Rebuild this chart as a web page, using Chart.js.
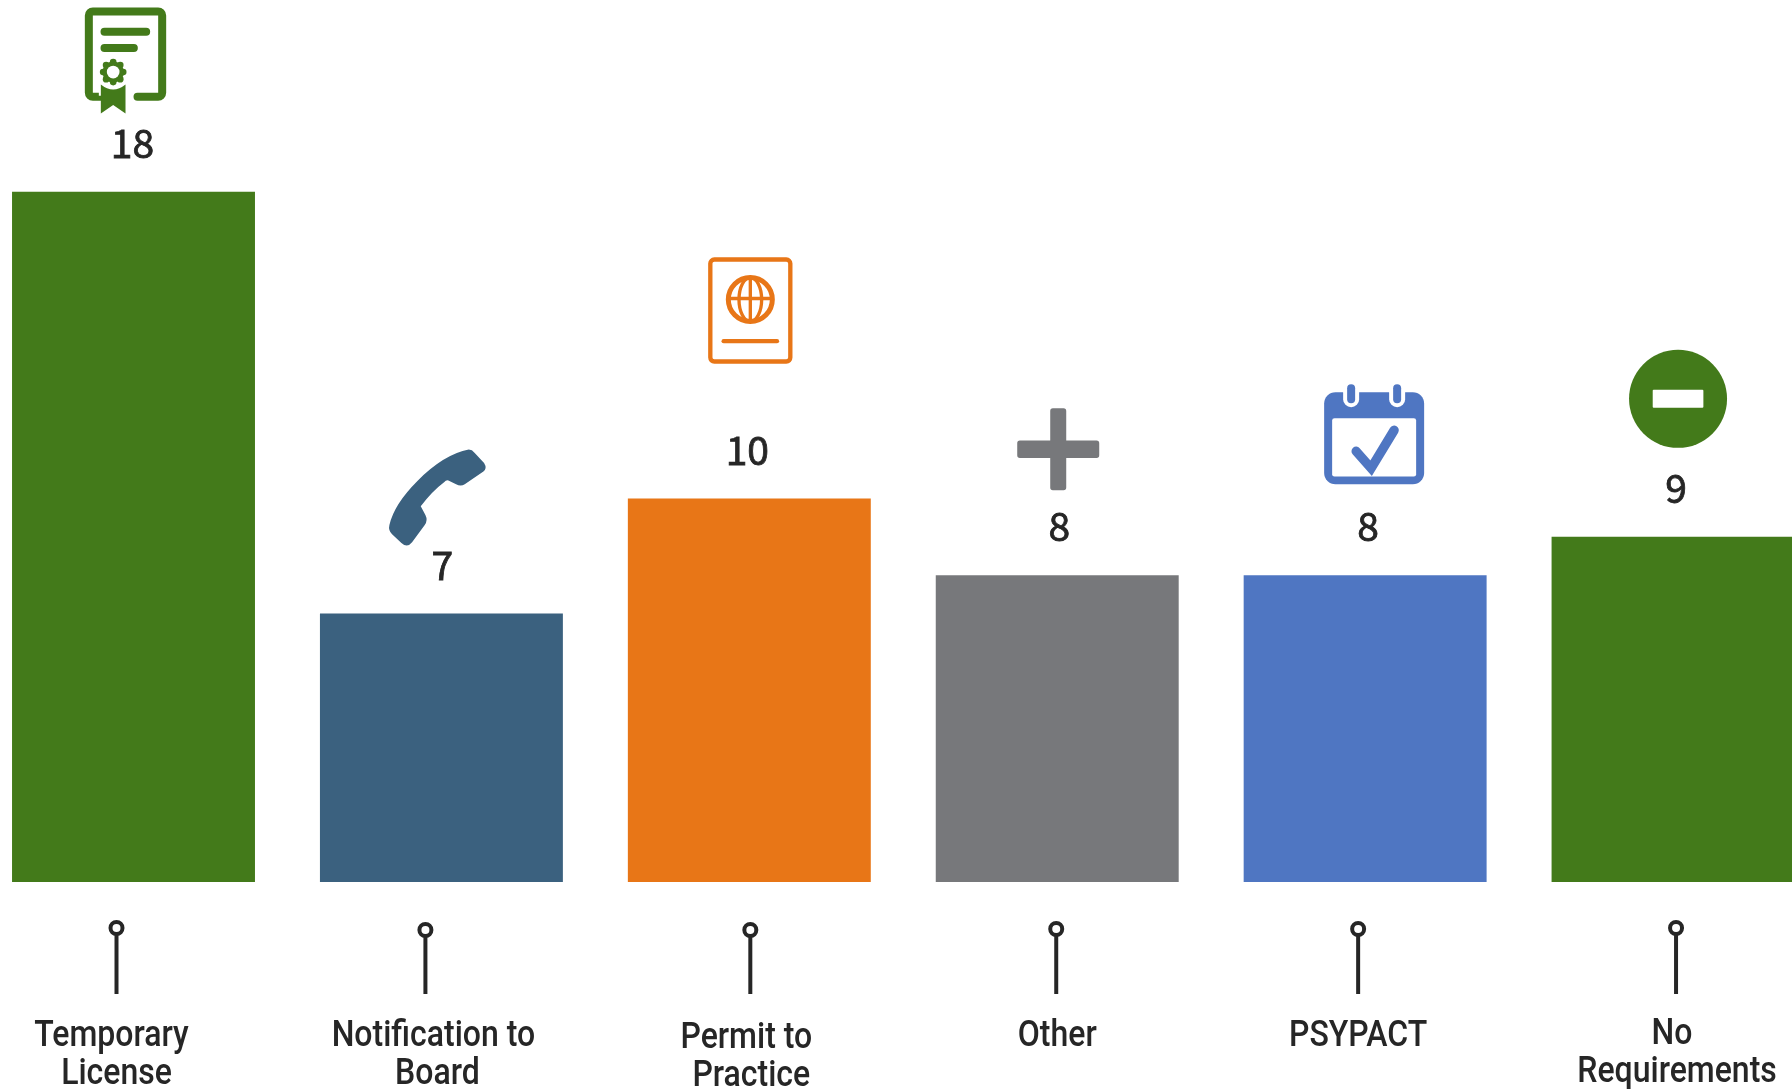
<!DOCTYPE html>
<html><head><meta charset="utf-8">
<style>html,body{margin:0;padding:0;background:#fff;overflow:hidden;width:1792px;height:1089px}
#w{position:absolute;left:-21px;top:0;width:1848px;height:1089px}</style>
<script src="https://cdn.jsdelivr.net/npm/chart.js@4"></script></head>
<body><div id="w"><canvas id="c" width="1848" height="1089"></canvas></div>
<script>
const categories = ["Temporary License","Notification to Board","Permit to Practice","Other","PSYPACT","No Requirements"];
const values = [18,7,10,8,8,9];
const barColors = ["#437a1a","#3b617f","#e87617","#77787b","#4f76c2","#437a1a"];
const labelLines = [["Temporary","License"],["Notification to","Board"],["Permit to","Practice"],["Other"],["PSYPACT"],["No","Requirements"]];
// layout offsets, separate from the data
const lineDx = [[-22,-17],[-8,-4],[-3,2],[0],[-7],[-1,4]];
const labelBase = [1046,1046,1048,1046,1046,1044];
const valueDx = [-1,1,-2,2,3,3];
const pinDx = [-17,-16,1,-1,-7,3];
const pinY = [928,930,930,929,929,928];
const iconDy = [121,116,188,126,141,138];
const iconDx = [-8,-4,1,1,9,5];
const labelSqueeze = 0.865;
const labelLeading = 38;

const icons = [
 function cert(x,col){ // local origin: icon centre
  x.strokeStyle=col;x.fillStyle=col;x.lineCap="round";x.lineJoin="round";
  x.lineWidth=24;x.beginPath();x.moveTo(36,78);x.lineTo(96,78);x.arcTo(110,78,110,66,12);x.lineTo(110,-166);
  x.arcTo(110,-178,98,-178,12);x.lineTo(-98,-178);x.arcTo(-110,-178,-110,-166,12);x.lineTo(-110,66);x.arcTo(-110,78,-98,78,12);x.lineTo(-72,78);x.stroke();
  x.beginPath();x.moveTo(-63,-117);x.lineTo(62,-117);x.moveTo(-63,-68);x.lineTo(25,-68);x.stroke();
  x.lineCap="butt";
  x.fillStyle="#fff";x.fillRect(-80,39,80,36);x.fillStyle=col;
  x.beginPath();x.moveTo(-74,41);x.quadraticCurveTo(-37,71,0,41);x.lineTo(0,128);x.lineTo(-37,103);x.lineTo(-74,128);x.closePath();x.fill();
  for(let i=0;i<8;i++){const a=i*Math.PI/4;x.beginPath();x.arc(-37+30*Math.cos(a),4+30*Math.sin(a),10,0,7);x.fill();}
  x.beginPath();x.arc(-37,4,32,0,7);x.fill();
  x.fillStyle="#fff";x.beginPath();x.arc(-37,4,19,0,7);x.fill();
 },
 function phone(x,col){
  x.fillStyle=col;x.beginPath();x.moveTo(94,-144);
  x.quadraticCurveTo(104,-144,112,-134);x.lineTo(140,-104);x.quadraticCurveTo(150,-88,138,-78);
  x.lineTo(82,-40);x.quadraticCurveTo(70,-32,56,-40);x.lineTo(36,-50);x.quadraticCurveTo(28,-56,20,-46);
  x.quadraticCurveTo(-15,-20,-50,26);x.lineTo(-36,52);x.quadraticCurveTo(-28,68,-38,82);
  x.lineTo(-76,134);x.quadraticCurveTo(-90,152,-108,136);x.lineTo(-136,110);x.quadraticCurveTo(-148,98,-144,82);
  x.quadraticCurveTo(-130,20,-60,-50);x.quadraticCurveTo(20,-130,94,-144);x.closePath();x.fill();
 },
 function passport(x,col){
  x.strokeStyle=col;x.fillStyle=col;x.lineWidth=13;x.lineJoin="round";
  x.beginPath();x.roundRect(-120,-153,240,306,12);x.stroke();
  x.lineWidth=15;x.beginPath();x.arc(0,-33,66,0,7);x.stroke();
  x.lineWidth=10;x.beginPath();x.moveTo(0,-99);x.lineTo(0,33);x.moveTo(-66,-36);x.lineTo(66,-36);x.stroke();
  x.beginPath();x.ellipse(0,-33,34,66,0,0,7);x.stroke();
  x.lineWidth=13;x.lineCap="round";x.beginPath();x.moveTo(-80,92);x.lineTo(80,92);x.stroke();
 },
 function plus(x,col){
  x.fillStyle=col;x.beginPath();x.roundRect(-24,-123,48,246,8);x.roundRect(-123,-26,246,52,8);x.fill();
 },
 function cal(x,col){
  x.fillStyle=col;x.beginPath();x.roundRect(-150,-126,300,276,34);x.fill();
  x.fillStyle="#fff";x.beginPath();x.roundRect(-126,-48,252,175,7);x.fill();
  for(const d of [-69,69]){x.fillStyle="#fff";x.beginPath();x.roundRect(d-24,-150,48,69,24);x.fill();
   x.fillStyle=col;x.beginPath();x.roundRect(d-12,-150,24,57,12);x.fill();}
  x.strokeStyle=col;x.lineWidth=28;x.lineCap="round";x.lineJoin="miter";
  x.beginPath();x.moveTo(-54,51);x.lineTo(-9,102);x.lineTo(60,-12);x.stroke();
 },
 function minus(x,col){
  x.fillStyle=col;x.beginPath();x.arc(0,0,147,0,7);x.fill();
  x.fillStyle="#fff";x.beginPath();x.roundRect(-76,-27,152,54,3);x.fill();
 }
];

const decor = {
 id:"decor",
 afterDatasetsDraw(chart){
  const x=chart.ctx, xs=chart.scales.x, ys=chart.scales.y;
  values.forEach((v,i)=>{
   const cx=xs.getPixelForValue(i), top=ys.getPixelForValue(v);
   // value
   x.save();x.fillStyle="#262626";x.strokeStyle="#262626";x.lineWidth=0.8;x.textAlign="center";x.textBaseline="alphabetic";
   x.font='400 39px "Noto Sans CJK SC"';x.fillText(String(v),cx+valueDx[i],top-34);x.strokeText(String(v),cx+valueDx[i],top-34);x.restore();
   // icon
   x.save();x.translate(cx+iconDx[i],top-iconDy[i]);x.scale(1/3,1/3);icons[i](x,barColors[i]);x.restore();
   // pin
   const px=cx+pinDx[i], py=pinY[i];
   x.save();x.strokeStyle="#262626";x.lineWidth=4;
   x.beginPath();x.arc(px,py,6,0,7);x.stroke();
   x.beginPath();x.moveTo(px,py+6);x.lineTo(px,994);x.stroke();
   // labels
   x.fillStyle="#262626";x.textAlign="center";x.font='500 37px Roboto';
   labelLines[i].forEach((t,k)=>{
    x.save();x.translate(cx+lineDx[i][k],labelBase[i]+labelLeading*k);x.scale(labelSqueeze,1);x.fillText(t,0,0);x.restore();
   });
   x.restore();
  });
 }
};

new Chart(document.getElementById("c"),{
 type:"bar",
 data:{labels:categories,datasets:[{data:values,backgroundColor:barColors,borderWidth:0,categoryPercentage:1,barPercentage:0.789}]},
 options:{responsive:false,animation:false,
  layout:{padding:{left:0.55,right:0,top:0,bottom:207}},
  plugins:{legend:{display:false},tooltip:{enabled:false}},
  scales:{x:{display:false},y:{display:false,min:0,max:23}}},
 plugins:[decor]
});
</script></body></html>
